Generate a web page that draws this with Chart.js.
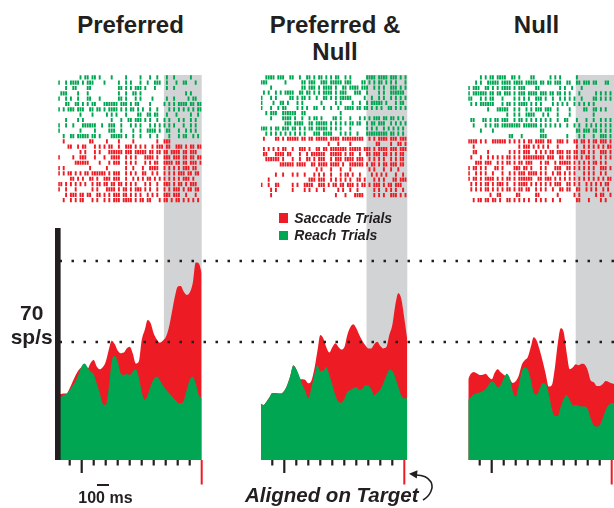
<!DOCTYPE html>
<html>
<head>
<meta charset="utf-8">
<script src="https://cdn.jsdelivr.net/npm/chart.js@4.4.1/dist/chart.umd.min.js"></script>
<style>
  html, body { margin: 0; padding: 0; background: #fff; }
  #stage { position: relative; width: 614px; height: 508px; overflow: hidden;
           font-family: "Liberation Sans", Arial, Helvetica, sans-serif; color: #231f20; }
  #stage canvas { position: absolute; }
  .txt { position: absolute; white-space: nowrap; font-weight: bold; line-height: 1; }
  .ctr { transform: translateX(-50%); }
  .it { font-style: italic; }
  .sw { position: absolute; }
</style>
</head>
<body>
<div id="stage"></div>
<script>
// ---------------- data ----------------
// PSTH sample times (ms relative to target onset)
const TIME_MS = [-1200,-1175,-1150,-1125,-1100,-1075,-1050,-1025,-1000,-975,-950,-925,-900,-875,-850,-825,
  -800,-775,-750,-725,-700,-675,-650,-625,-600,-575,-550,-525,-500,-475,-450,-425,-400,-375,-350,-325,
  -300,-275,-250,-225,-200,-175,-150,-125,-100,-75,-50,-25,0,25];

// Firing rate (sp/s), Preferred
const P1_SACCADE = [39.2,39.2,39.5,39.5,42.5,46.5,50.4,53.4,55.0,55.4,54.4,57.7,59.3,55.4,53.8,55.0,58.3,65.3,
  70.8,68.8,64.9,63.3,63.7,66.2,67.2,63.3,57.3,58.3,71.2,77.1,83.1,81.1,75.1,71.6,69.6,70.8,72.8,78.1,87.0,96.5,
  102.8,103.2,99.9,97.9,99.3,104.8,117.1,116.7,110.7];
const P1_REACH = [37.2,37.2,38.6,39.2,41.5,44.1,46.9,51.0,55.8,57.3,54.8,52.4,51.0,45.5,39.9,33.6,32.6,42.5,
  58.3,61.7,58.3,51.4,50.4,51.0,50.4,52.2,53.8,49.4,40.5,35.6,38.6,43.9,47.9,49.4,47.5,44.5,41.9,39.9,38.0,36.0,
  34.0,33.6,35.2,41.5,47.5,49.4,45.5,38.6,36.6];

// Firing rate (sp/s), Preferred & Null
const P2_SACCADE = [33.6,32.6,34.4,37.0,39.7,39.7,39.4,39.5,41.1,44.7,50.0,56.0,53.8,48.4,47.9,47.5,45.5,46.9,
  53.8,64.3,74.2,72.2,66.8,63.7,66.8,69.2,67.2,65.5,66.8,74.2,78.7,80.5,78.1,74.2,70.8,68.0,66.2,66.2,68.8,70.2,
  67.6,66.2,67.0,74.2,80.1,92.0,98.9,95.5,84.0,71.2];
const P2_REACH = [33.6,32.6,34.4,37.0,39.7,39.7,39.4,39.5,41.1,44.7,50.0,56.0,53.8,49.8,44.7,41.1,36.6,42.5,
  50.4,56.4,52.8,53.0,55.2,50.4,44.7,38.6,34.6,34.0,36.2,40.5,41.3,42.5,43.3,41.5,42.1,44.3,44.1,41.9,38.4,40.1,
  41.7,45.5,50.0,53.4,53.0,49.0,43.5,38.4,36.6,36.6];

// Firing rate (sp/s), Null
const P3_SACCADE = [47.5,51.0,52.2,51.4,50.4,50.6,51.2,49.2,47.9,51.8,53.8,52.0,50.6,49.4,48.1,45.7,46.7,50.0,
  56.4,59.1,60.9,66.8,72.8,70.8,65.3,58.5,51.0,43.5,44.3,54.0,68.8,78.1,75.7,63.3,53.8,54.8,56.8,56.2,57.1,56.6,
  53.2,47.1,46.1,43.9,43.9,45.1,46.9,46.3,45.5,45.1];
const P3_REACH = [35.6,37.2,38.8,39.7,40.1,40.9,42.1,44.7,46.5,45.7,43.1,44.5,48.4,51.2,48.8,40.9,37.6,44.1,
  52.4,54.8,53.8,47.9,40.1,38.8,42.3,45.5,45.1,39.5,30.7,26.3,26.1,31.6,36.4,38.6,35.6,32.6,32.4,32.2,31.8,31.8,
  30.3,24.7,20.6,19.8,20.6,24.7,29.7,32.8,33.6,34.0];

// Spike rasters: one string per trial, one character per 20 ms bin starting at -1190 ms ('|' = spike)
const RASTER_START_MS = -1190;
const RASTER_BIN_MS = 20;

const P1_REACH_RASTER = [
  ".........| .||.||.|.. ..|.....|. ....|...|. .|...|..|. .....|....",
  "|..|.||||. |.|||....| .....|..|. |...|..|.. |||..|...| ..||...|..",
  "...|..||.. ..||...... .....||.|. |.|||.|... |....|..|. ..........",
  ".|||....|. ..|....... .....|..|. .||.|..... .......... ...|.|....",
  "|..|.|..|. ..||...|.. .....||.|. ..|.|....| .....|..|. ....|.||..",
  "...||..||. |.|.||...| |||||.|||. |.||....|. ....|.|.|. ||||.||.||",
  "|.|.|||.|| |..||.||.| .||||.|.|. ||.|.|..|. .|....|.|. |.|.|.|.||",
  ".........| ....|..... |.|.|...|. ...||..||. ||...|...| .....|..|.",
  "...|....|. |......... ..|...|..| |.|||.|.|. .|..|.|... |.|..|.|..",
  "|..|..|... ||||||..|. .|||..|... |.|.|...|. |.|.|.|.|. ..|..|.|..",
  "|........| .....|.... .|||..|... .|..|..||| |.|..||... |..|.|.|..",
  "..|..||.|| |||.||.|.. ..|||||.|. .|..|...|. .|....|... |.||..|.|."
];
const P1_SACCADE_RASTER = [
  "..|....... ...||..... |....|.... .|........ .|..|||... ..........",
  "....||..|. ||...|.|.| .||..|..|| |.|.|.|..| .|||.||..| ||.|.||.||",
  ".........| .|...|.|.. .||||||.|| |.|||||.|| .||.||.||| |.||.|||..",
  "|.....|..| ||...|...| ..||||..|. |.|...|||| .|..|||.|| |.||.||.||",
  ".......||| |||....|.. .|.|||..|. |.|...|.|. ||..||||.| |.||.|||.|",
  "|.|....... ...|...... |.......|. .|...|..|| ||..|.|.|. |.|||.||..",
  "|.|.||.|.| .||.|||||| .|.|||..|. |.|..||..| .|..|.|.|. |||.||.||.",
  ".....||.|. |..||.|..| ||.|||..|. .|.|.|.||. |.|.|.|.|. |.|||.|...",
  "||.|.|.|.| .|..|.||.| |.||.||.|. |.|...|.|. .|..|||.|. ||.|.|||..",
  "|..|...|.. ....|.|... ||||.|.||. |.|||.|.|. .|..|.|.|| |.|.||.||.",
  "...|.|||.| |.||..||.| .|.|||.||. |.|.|..|.| .|..|||.|| |..|...|..",
  "..|..|.|.| |...|.|..| .|.|||.||| |.|.||.||. ..|.||.|.| |.|.|.|.|."
];
const P2_REACH_RASTER = [
  "..||||.||| ..||..|..| |.|.||.|.| .||..|.|.. ....||||.| |||.|||.|. |",
  "|||....... |......||. |||..|||.| ||||.|||.. ..||.|.|.| |.|.|.|... |",
  "....|..... .......||. |||.|.|||| .|..||.||| |.|||..|.| .|..|||.|. |",
  ".|.|..|.|. ||||..||.| |.|.|.|||| .|.|||...| ||..|....| .|..|||||| .",
  "|...|.|... ..||.|.||. |..|..||.| .|.|||||.. ...|..|..| .|..|.|.|. |",
  "|....|..|| .|...|.|.. .....|.... .|.|....|. .|..|.|||| |.|...|.|| .",
  "|...|..|.| |....|.|.| ..||..|..| ..|..||||. ||.||.|.|. |..||.|.|. |",
  "..|.|||..| |||||..||. .......... ...|...... .......... .......... .",
  "....|....| |||.|..|.. |.||.|.... ||.|...|.. .|.|.|.||| .||.||.|.| .",
  ".......... |||.||||.. ||.|||||.| .|.|.|.||. ||..|.||.| ||..|.|.|. |",
  "|||.|.||.| ||.||.|.|. ||.|||||.| .|.|...|.. ....|.|.|. .|.|.|.|.| .",
  "..|.|.|.|. |.|.|.|.|. ..|||.|||| ...|.|.|.. |...|||||| |||.||.|.| ."
];
const P2_SACCADE_RASTER = [
  ".|....||.| .|||||.||. ||.|||||.| |||.|||||| |||..|.|.| |||.|||.|| |",
  ".......... .......... ........|. ..|....|.. ........|| ....|..||. |",
  ".|.|.|.|.| |..|..|||. |..||.||.| ||||||.||| ||.|||.|.| |||.|||.|| |",
  ".||...|||| .||...|..| .||||||..| ||||.|.||. .|..||.||| .||.|.|.|| .",
  "..||||||.| ...|..|..| |.|.|||..| .|||.||||. |||..|.|.| .|..|.|.|| .",
  "........|| ||||.||||. .||.||||.| |||.|..||| |||.|.||.| .||.|||.|| .",
  ".......... .......... ...|.|...| ...|...|.. .....|.|.. .|..|..|.. .",
  "......|..| ...|.|..|. ..|.|.|..| ...|.||.|. .|....|.|. |.|...|..| .",
  "...|...... .......... |||.|||..| .|.|.|.|.. ||.|...|.| .|...||.|| |",
  "|..|..||.. ...|.|..|| ||..|||.|. ||.||.|||. |.||.|.||| .|.||.|||. .",
  "....|.|... ...|....|. |..|..|... ..|.|..|.. |......|.| ..|.|.|..| .",
  "....|..... .......... .......... .|...|...| |||....|.| .|..|||.|. |"
];
const P3_REACH_RASTER = [
  ".....|.|.| |.||||..|| .|....||.. ....|.|.|. .....|.... .......... .",
  "...|.|..|| |||.||||.| |||.|||||. ||.||.|||. .||..||.|| |.||...||. .",
  "|.|||..||. |.|.||||.| .|||....|| ........|. |..|...|.. .......... .",
  "|.||||||.| |.||.|||.| .|||.||||. |||.||.||. |.|...|... ...|.|.|.| .",
  "||...|.|.| |...|....| .|.|.|..|| |.|..|..|. |.|.|..|.. ..||.|.|.| .",
  ".|.|.||||| |...|.||.| .||||.|.|. |....|.|.| .|..|.|.|. |.|....... .",
  "........|. ..|||||..| .|..|.|.|| |.|||..|.. ..|.....|| ..||.|.|.. .",
  ".......... ......|..| .|..||||.. .|.|...|.. ..|....... ..|....... .",
  ".||...||.| .||.|||..| .||.|.|.|. |.|.|..|.. ||...|...| ..|..|.|.| .",
  "..|....|.| .||.|||||| ||.||||||. |.|.|.|.|. .|..|.|..| .|.|.|.|.| .",
  ".....|.... |......... .......... ||........ .....||.|| |.||.|.|.| .",
  ".......... .......||. ..|....... |||....... .|....|.|. ..|..|||.| ."
];
const P3_SACCADE_RASTER = [
  "||||.|.|.. ||||||.|.| .|.|.||.|| ||.||..||| .|..||.||. |.||.|||.| .",
  "..|....... .......... .|.|||.|.| .|.|...|.. .....|..|. |.|.|.|.|| .",
  "..||....|. .......|.| .|.|||..|. |.|.||.||| .||.||.||. |.|..|||.| .",
  ".|...|..|. |.|.|.||.| .|.||||||| ||.|||..|| .||.||.|.| |.|..|.|.| .",
  "...|||.||| ..|.|.||.| .||.|||... |.||..|.|| |||.|.|.|. |.||.|.|.. .",
  "|.||.|.|.. .||.|....| ||.||.|... |.|...|||. .||.|.|.|. |.|..|||.| .",
  "|..|.|.|.. |...|..|.| .|||.||||. |.|..|.||. |.|.|...|. |.|..|.|.. .",
  "|.||.|.||| |.|.|.||.| .||||||..| |.|||.|.|. |.|.|.|.|. |.|.|.|.|| .",
  ".|.|.|.||. |.|||.|..| .||||.|.|. |.|.|.|||. .||.|.|..| .|.|.|.||. .",
  ".|.|.|.||. |.|.|.||.| .||.||..|. |.|..|..|| .||..||..| .|.|..|.|. .",
  ".........| ..||...... ||......|| .......|.. ....|.|... ...|.||..| .",
  "..|.||.||. ||.|..||.| .|.|.|..|. |.|..|..|. .....||... |....|.|.. ."
];

// Time axis marks (ms) and reference rates for the dotted guides (sp/s)
const TICK_MS = [-1100,-1000,-900,-800,-700,-600,-500,-400,-300,-200,-100];
const LONG_TICK_MS = -1000;
const ALIGN_MS = 0;
const GUIDE_RATES = [70, 118];
const SHADE_FROM_MS = [-315, -315, -300];
const X_MAX_MS = [0, 25, 20];
const X_MIN_MS = -1195;
const Y_MAX_RATE = 137.6;

// ---------------- styling / layout ----------------
const RED = '#ed1c24';
const GREEN = '#00a651';
const GRAY = '#d1d3d4';
const INK = '#231f20';

const PX_PER_MS = 0.12;
const ZERO_PX = [201.7, 404.3, 611.7];
const ROW_PITCH = [5.34, 5.12, 5.34];
const RASTER_TOP = 75, RASTER_H = 153, FIRST_ROW_OFFSET = 2.3;
const PSTH_TOP = 228, PSTH_H = 232, TICK_ROOM = 30;

const stage = document.getElementById('stage');

function addCanvas(left, top, w, h) {
  const c = document.createElement('canvas');
  c.width = w; c.height = h;
  c.style.left = left + 'px'; c.style.top = top + 'px';
  c.style.width = w + 'px'; c.style.height = h + 'px';
  stage.appendChild(c);
  return c;
}

const baseOptions = (padding) => ({
  responsive: false,
  animation: false,
  devicePixelRatio: 1,
  events: [],
  layout: { padding, autoPadding: false },
  plugins: { legend: { display: false }, tooltip: { enabled: false } }
});

// gray analysis window, painted beneath the marks
const shadePlugin = {
  id: 'shade',
  beforeDatasetsDraw(chart, args, opts) {
    const { ctx, chartArea: a, scales: { x } } = chart;
    const x0 = Math.max(a.left, x.getPixelForValue(opts.from));
    ctx.save();
    ctx.fillStyle = opts.color;
    ctx.fillRect(x0, a.top, a.right - x0, a.bottom - a.top);
    ctx.restore();
  }
};

// time ticks under each histogram
const timeTicksPlugin = {
  id: 'timeTicks',
  afterDraw(chart) {
    const { ctx, chartArea: a, scales: { x } } = chart;
    ctx.save();
    ctx.fillStyle = INK;
    TICK_MS.forEach(t => {
      const px = x.getPixelForValue(t);
      const len = t === LONG_TICK_MS ? 13 : 5.5;
      ctx.fillRect(px - 1.1, a.bottom, 2.2, len);
    });
    ctx.fillStyle = RED;
    const ax = x.getPixelForValue(ALIGN_MS);
    ctx.fillRect(ax - 1, a.bottom, 2, 24.5);
    ctx.restore();
  }
};

// vertical rate scale bar on the first histogram
const rateBarPlugin = {
  id: 'rateBar',
  afterDatasetsDraw(chart, args, opts) {
    if (!opts.show) return;
    const { ctx, chartArea: a, scales: { y } } = chart;
    const top = y.getPixelForValue(y.max), bottom = y.getPixelForValue(0);
    ctx.save();
    ctx.fillStyle = INK;
    ctx.fillRect(a.left - 3.3, top, 5.6, bottom - top);
    ctx.restore();
  }
};

function rasterPoints(rows, firstRow) {
  const pts = [];
  rows.forEach((row, i) => {
    const bins = row.replace(/ /g, '');
    for (let k = 0; k < bins.length; k++) {
      if (bins[k] === '|') pts.push({ x: RASTER_START_MS + k * RASTER_BIN_MS, y: firstRow + i });
    }
  });
  return pts;
}

function series(values) {
  return values.map((v, i) => ({ x: TIME_MS[i], y: v }));
}

const PANELS = [
  { saccade: P1_SACCADE, reach: P1_REACH, reachRaster: P1_REACH_RASTER, saccadeRaster: P1_SACCADE_RASTER, bar: true },
  { saccade: P2_SACCADE, reach: P2_REACH, reachRaster: P2_REACH_RASTER, saccadeRaster: P2_SACCADE_RASTER, bar: false },
  { saccade: P3_SACCADE, reach: P3_REACH, reachRaster: P3_REACH_RASTER, saccadeRaster: P3_SACCADE_RASTER, bar: false }
];

PANELS.forEach((p, i) => {
  const xMax = X_MAX_MS[i];
  const areaLeft = ZERO_PX[i] + X_MIN_MS * PX_PER_MS;
  const areaW = (xMax - X_MIN_MS) * PX_PER_MS;

  // ---- raster ----
  {
    const left = Math.floor(areaLeft);
    const padL = areaLeft - left;
    const w = Math.ceil(padL + areaW);
    const padR = w - padL - areaW;
    const c = addCanvas(left, RASTER_TOP, w, RASTER_H);
    const pitch = ROW_PITCH[i];
    const yMin = -FIRST_ROW_OFFSET / pitch;
    const opts = baseOptions({ left: padL, right: padR, top: 0, bottom: 0 });
    opts.scales = {
      x: { type: 'linear', min: X_MIN_MS, max: xMax, display: false },
      y: { type: 'linear', reverse: true, min: yMin, max: yMin + RASTER_H / pitch, display: false }
    };
    opts.plugins.shade = { from: SHADE_FROM_MS[i], color: GRAY };
    const tick = (color) => ({
      showLine: false, pointStyle: 'line', pointRotation: 90, pointRadius: 2.1, pointHoverRadius: 2.1,
      pointBorderWidth: 1.9, pointBorderColor: color, pointBackgroundColor: color, borderColor: color
    });
    new Chart(c, {
      type: 'scatter',
      data: {
        datasets: [
          Object.assign({ label: 'Reach Trials', data: rasterPoints(p.reachRaster, 0) }, tick(GREEN)),
          Object.assign({ label: 'Saccade Trials', data: rasterPoints(p.saccadeRaster, p.reachRaster.length) }, tick(RED))
        ]
      },
      options: opts,
      plugins: [shadePlugin]
    });
  }

  // ---- histogram ----
  {
    const left = Math.floor(areaLeft) - 6;
    const padL = areaLeft - left;
    const w = Math.ceil(padL + areaW + 3);
    const padR = w - padL - areaW;
    const c = addCanvas(left, PSTH_TOP, w, PSTH_H + TICK_ROOM);
    const opts = baseOptions({ left: padL, right: padR, top: 0, bottom: TICK_ROOM });
    opts.scales = {
      x: { type: 'linear', min: X_MIN_MS, max: xMax, display: false },
      y: { type: 'linear', min: 0, max: Y_MAX_RATE, display: false }
    };
    opts.plugins.shade = { from: SHADE_FROM_MS[i], color: GRAY };
    opts.plugins.rateBar = { show: p.bar };
    const area = (color) => ({
      fill: 'origin', backgroundColor: color, borderColor: 'rgba(0,0,0,0)', borderWidth: 0,
      pointRadius: 0, pointHoverRadius: 0, cubicInterpolationMode: 'monotone'
    });
    new Chart(c, {
      type: 'line',
      data: {
        datasets: [
          Object.assign({ label: 'Reach Trials', data: series(p.reach) }, area(GREEN)),
          Object.assign({ label: 'Saccade Trials', data: series(p.saccade) }, area(RED))
        ]
      },
      options: opts,
      plugins: [shadePlugin, timeTicksPlugin, rateBarPlugin]
    });
  }
});

// dotted reference rates across all three histograms
{
  const areaLeft = 59.5;
  const left = 59;
  const w = 614 - left;
  const c = addCanvas(left, PSTH_TOP, w, PSTH_H);
  const opts = baseOptions({ left: areaLeft - left, right: 0, top: 0, bottom: 0 });
  opts.scales = {
    x: { type: 'linear', min: 0, max: 1, display: false },
    y: { type: 'linear', min: 0, max: Y_MAX_RATE, display: false }
  };
  new Chart(c, {
    type: 'line',
    data: {
      datasets: GUIDE_RATES.map(r => ({
        data: [{ x: 0, y: r }, { x: 1, y: r }],
        borderColor: INK, borderWidth: 2.4, borderDash: [2.5, 9.5], borderCapStyle: 'butt',
        pointRadius: 0, fill: false, clip: false
      }))
    },
    options: opts
  });
}

// ---------------- text ----------------
function addText(html, css, cls) {
  const d = document.createElement('div');
  d.className = 'txt ' + (cls || '');
  d.innerHTML = html;
  Object.assign(d.style, css);
  stage.appendChild(d);
  return d;
}
addText('Preferred', { left: '130.5px', top: '13px', fontSize: '24px' }, 'ctr');
addText('Preferred &amp;', { left: '335px', top: '13px', fontSize: '24px' }, 'ctr');
addText('Null', { left: '335px', top: '39.5px', fontSize: '24px' }, 'ctr');
addText('Null', { left: '536.5px', top: '13px', fontSize: '24px' }, 'ctr');
addText('70', { left: '31.7px', top: '302.2px', fontSize: '21px' }, 'ctr');
addText('sp/s', { left: '31.7px', top: '325.5px', fontSize: '21px' }, 'ctr');

const sw1 = document.createElement('div');
sw1.className = 'sw';
Object.assign(sw1.style, { left: '279px', top: '213.3px', width: '9.3px', height: '9.4px', background: RED });
stage.appendChild(sw1);
const sw2 = document.createElement('div');
sw2.className = 'sw';
Object.assign(sw2.style, { left: '279px', top: '230.5px', width: '9.3px', height: '9px', background: GREEN });
stage.appendChild(sw2);
addText('Saccade Trials', { left: '294.3px', top: '210.9px', fontSize: '14px' }, 'it');
addText('Reach Trials', { left: '294.3px', top: '227.5px', fontSize: '14px' }, 'it');

addText('100 ms', { left: '78.3px', top: '489.5px', fontSize: '16px' });
const msBar = document.createElement('div');
msBar.className = 'sw';
Object.assign(msBar.style, { left: '97.3px', top: '484px', width: (100 * PX_PER_MS).toFixed(1) + 'px', height: '2.2px', background: INK });
stage.appendChild(msBar);

addText('Aligned on Target', { left: '245px', top: '485.3px', fontSize: '20.5px' }, 'it');

const svgNS = 'http://www.w3.org/2000/svg';
const svg = document.createElementNS(svgNS, 'svg');
svg.setAttribute('width', '614'); svg.setAttribute('height', '508');
svg.style.position = 'absolute'; svg.style.left = '0'; svg.style.top = '0';
const path = document.createElementNS(svgNS, 'path');
path.setAttribute('d', 'M423 500 C430 496 434 488 431 482 C428 477 423 475 416 475');
path.setAttribute('fill', 'none'); path.setAttribute('stroke', INK); path.setAttribute('stroke-width', '1.6');
svg.appendChild(path);
const head = document.createElementNS(svgNS, 'polygon');
head.setAttribute('points', '409,473.8 417.5,470.3 416.8,478.6');
head.setAttribute('fill', INK);
svg.appendChild(head);
stage.appendChild(svg);
</script>
</body>
</html>
